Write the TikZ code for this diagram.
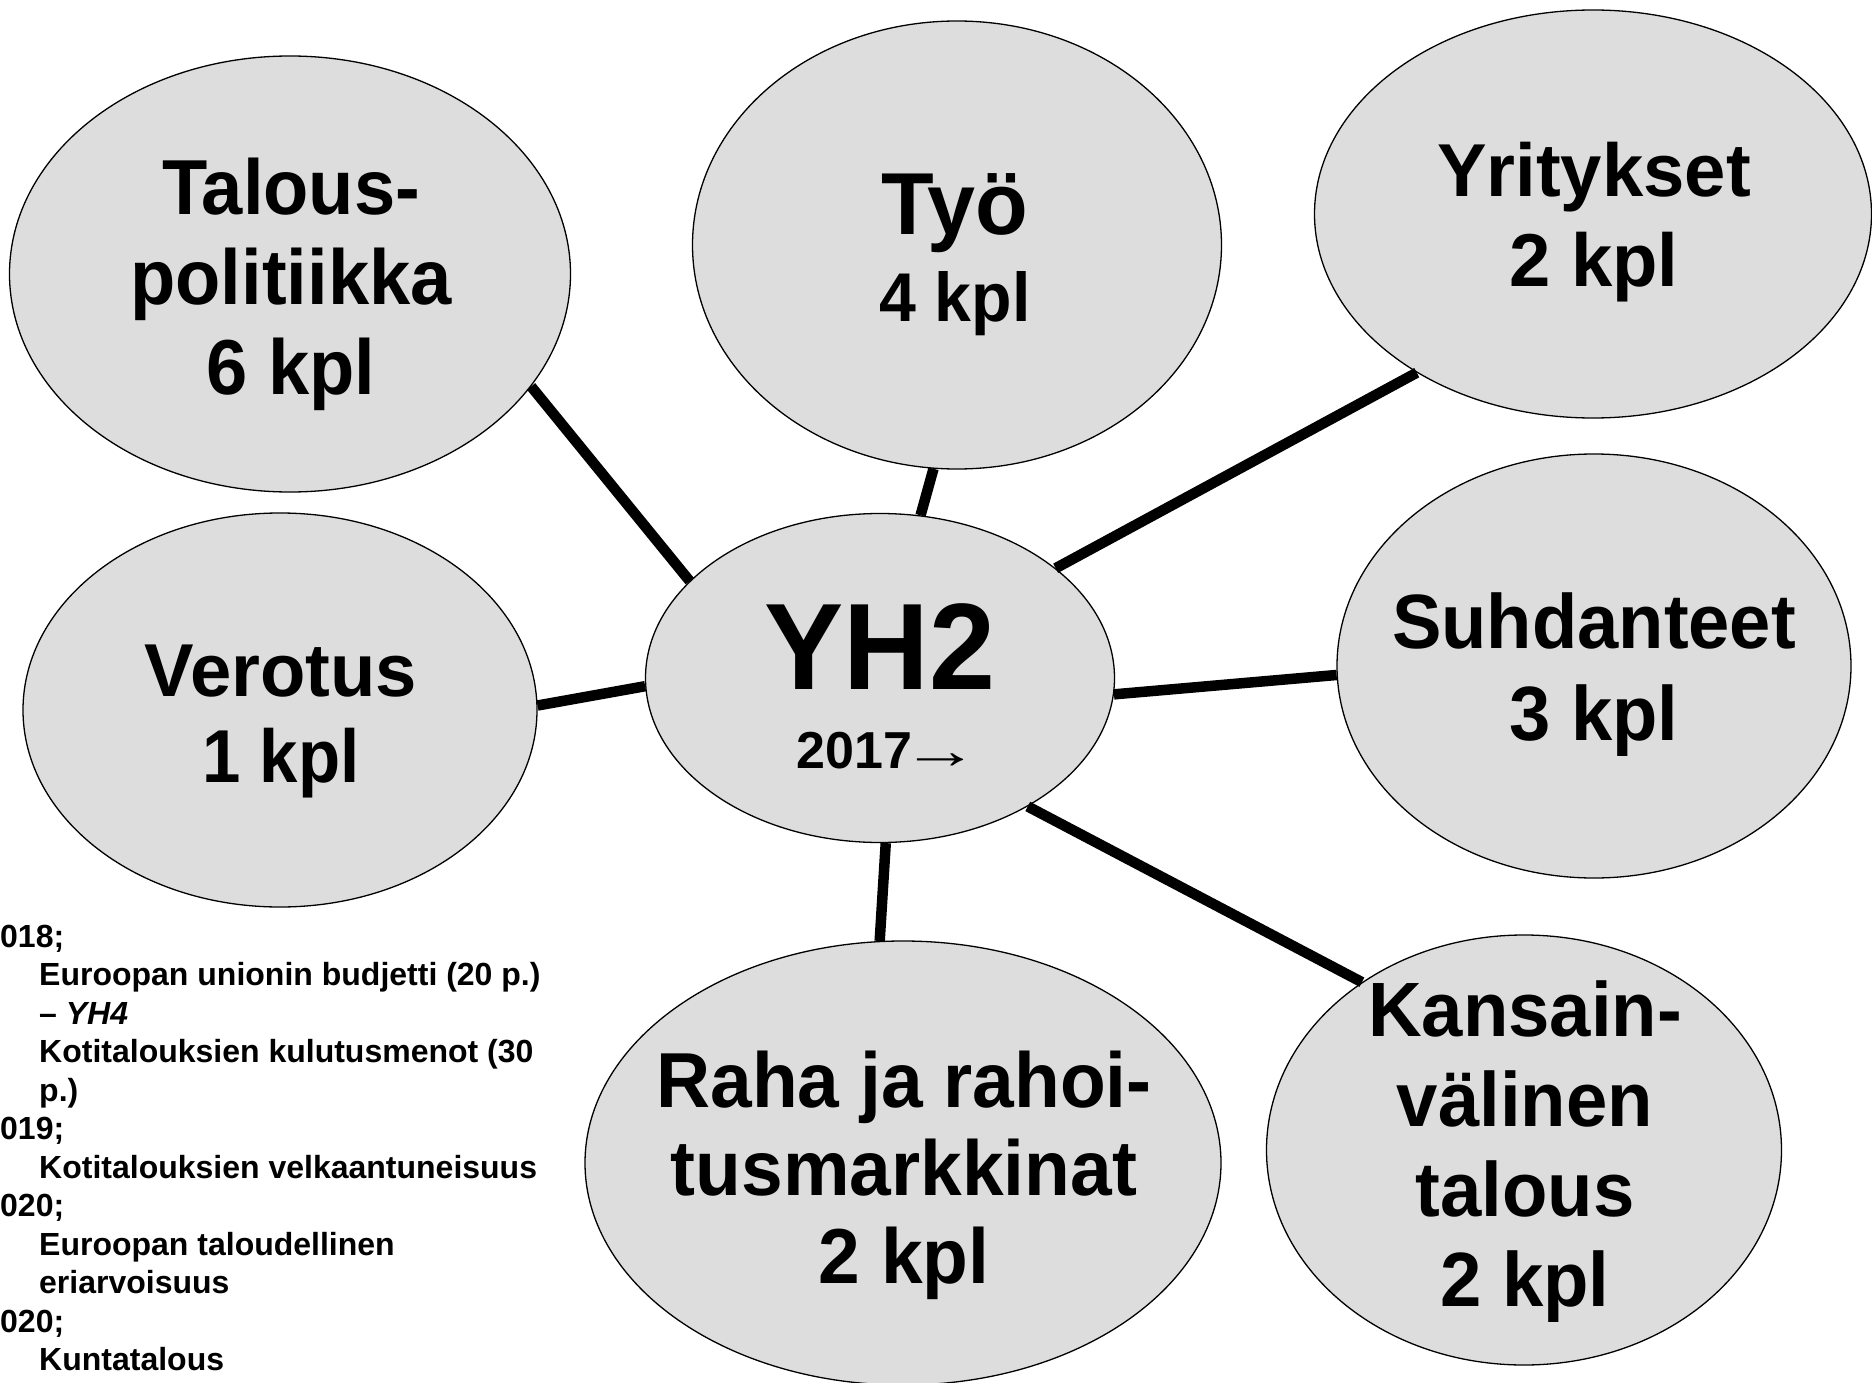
\documentclass[tikz,border=0pt]{standalone}
\usepackage{fontspec}
\usepackage{graphicx}
\setmainfont{Liberation Sans}
\newfontfamily\arrowfont{Liberation Serif}
\usetikzlibrary{shapes.geometric}
\definecolor{bubblegray}{HTML}{DDDDDD}
\newcommand\ctrlines[1]{\vtop{\let\\\cr\halign{\hfil##\hfil\cr#1\crcr}}}
\newcommand\leftlines[1]{\vtop{\let\\\cr\halign{##\hfil\cr#1\crcr}}}
\newcommand\ind{\kern39pt}
\newcommand\sx[2]{\scalebox{#1}[1]{#2}}
\tikzset{
  bubble/.style={ellipse, draw=black, line width=1.3pt, fill=bubblegray, inner sep=0pt},
  conn/.style={draw=black, line width=10.5pt},
  lbl/.style={inner sep=0pt, anchor=base},
}
\begin{document}
\begin{tikzpicture}[x=1pt, y=-1pt]
\fill[white] (0,0) rectangle (1872,1383);
\useasboundingbox (0,0) rectangle (1872,1383);

% bubbles
\node[bubble, minimum width=561pt, minimum height=436pt] (tal) at (290,274) {};
\node[bubble, minimum width=529pt, minimum height=448pt] (tyo) at (957,245) {};
\node[bubble, minimum width=557pt, minimum height=408pt] (yri) at (1593,214) {};
\node[bubble, minimum width=514pt, minimum height=394pt] (ver) at (280,710) {};
\node[bubble, minimum width=469pt, minimum height=329pt] (yh) at (880,678) {};
\node[bubble, minimum width=514pt, minimum height=424pt] (suh) at (1594,666) {};
\node[bubble, minimum width=636pt, minimum height=444pt] (rah) at (903,1163) {};
\node[bubble, minimum width=515pt, minimum height=430pt] (kan) at (1524,1150) {};

% labels
\node[lbl, font=\bfseries\fontsize{78}{90}\selectfont] (talT) at (291,215)
  {\sx{0.95}{\ctrlines{Talous-\\politiikka\\6 kpl}}};
\node[lbl, font=\bfseries\fontsize{88}{87}\selectfont] (tyoT) at (955,235)
  {\ctrlines{\sx{0.98}{Työ}\\{\fontsize{69}{70}\selectfont\sx{0.96}{4 kpl}}}};
\node[lbl, font=\bfseries\fontsize{75}{90}\selectfont] (yriT) at (1594,197)
  {\sx{0.99}{\ctrlines{Yritykset\\2 kpl}}};
\node[lbl, font=\bfseries\fontsize{75}{86}\selectfont] (verT) at (281,696)
  {\ctrlines{\sx{0.99}{Verotus}\\\sx{0.92}{1 kpl}}};
\node[lbl, font=\bfseries\fontsize{123}{79}\selectfont] (yhT) at (880,689)
  {\ctrlines{\sx{0.965}{YH2}\\{\fontsize{52}{60}\selectfont \kern16pt 2017\kern-11pt\sx{1.5}{\arrowfont\mdseries →}}}};
\node[lbl, font=\bfseries\fontsize{77}{92}\selectfont] (suhT) at (1594,648)
  {\sx{0.963}{\ctrlines{Suhdanteet\\3 kpl}}};
\node[lbl, font=\bfseries\fontsize{78}{88}\selectfont] (rahT) at (904,1107)
  {\sx{0.96}{\ctrlines{Raha ja rahoi-\\tusmarkkinat\\2 kpl}}};
\node[lbl, font=\bfseries\fontsize{77}{90}\selectfont] (kanT) at (1525,1036)
  {\sx{0.965}{\ctrlines{Kansain-\\välinen\\talous\\2 kpl}}};

% notes
\node[inner sep=0pt, anchor=base west, font=\bfseries\fontsize{32}{38.5}\selectfont] (notes) at (0,947)
  {\leftlines{018;\\
  \ind Euroopan unionin budjetti (20 p.)\\
  \ind – {\itshape YH4}\\
  \ind Kotitalouksien kulutusmenot (30\\
  \ind p.)\\
  019;\\
  \ind Kotitalouksien velkaantuneisuus\\
  020;\\
  \ind Euroopan taloudellinen\\
  \ind eriarvoisuus\\
  020;\\
  \ind Kuntatalous}};

% connectors
\draw[conn] (tal.-25) -- (yh.153);
\draw[conn] (tyo.-96) -- (yh.76);
\draw[conn] (yri.-138) -- (yh.32);
\draw[conn] (ver.1) -- (yh.-178);
\draw[conn] (yh.-4) -- (suh.-178);
\draw[conn] (yh.-88) -- (rah.96);
\draw[conn] (yh.-41) -- (kan.134);
\end{tikzpicture}
\end{document}
